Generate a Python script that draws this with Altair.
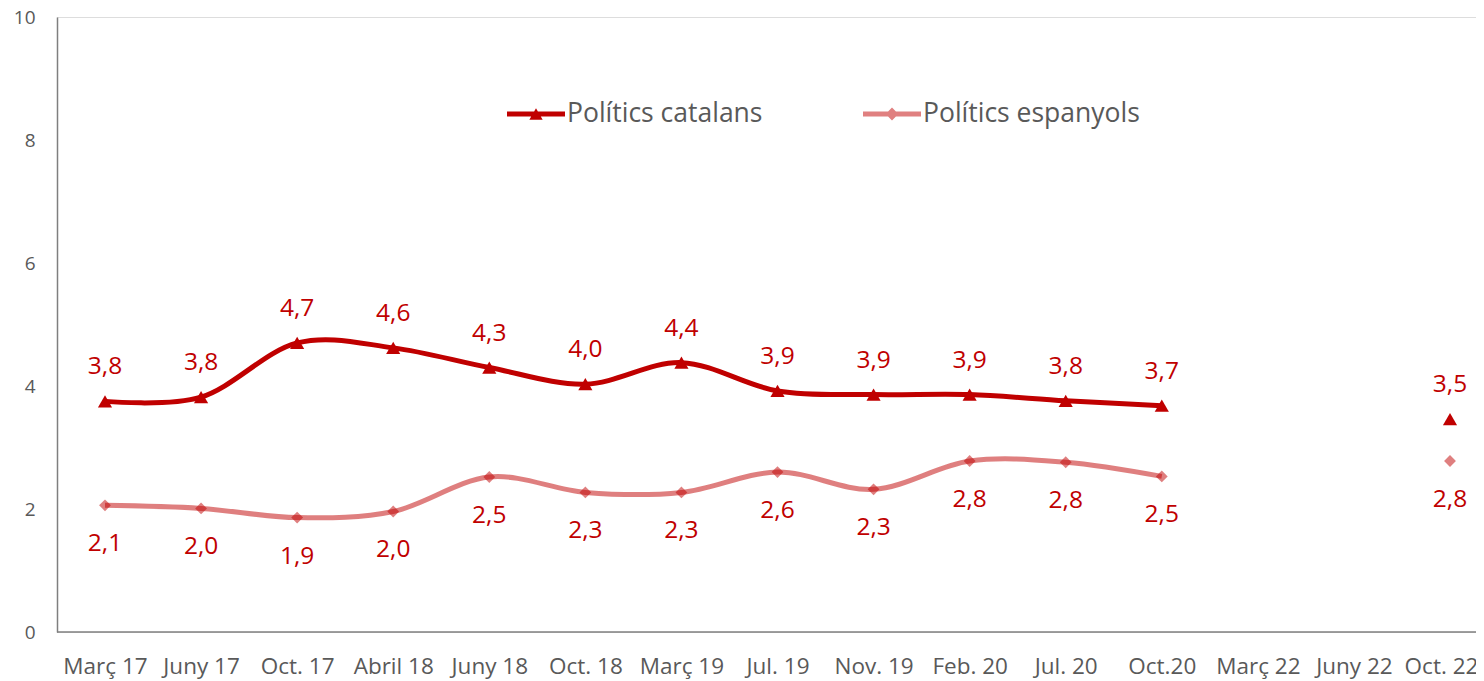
import altair as alt
import pandas as pd

categories = ["Març 17", "Juny 17", "Oct. 17", "Abril 18", "Juny 18", "Oct. 18",
              "Març 19", "Jul. 19", "Nov. 19", "Feb. 20", "Jul. 20", "Oct.20",
              "Març 22", "Juny 22", "Oct. 22"]
catalans = [3.75, 3.82, 4.70, 4.62, 4.30, 4.03, 4.38, 3.92, 3.86, 3.86, 3.76, 3.68, None, None, 3.46]
espanyols = [2.06, 2.01, 1.86, 1.96, 2.52, 2.27, 2.27, 2.60, 2.32, 2.78, 2.76, 2.53, None, None, 2.78]
series_names = ["Polítics catalans", "Polítics espanyols"]
segment = [0] * 12 + [1] * 3

rows = []
for name, vals in zip(series_names, [catalans, espanyols]):
    for c, v, s in zip(categories, vals, segment):
        rows.append({"cat": c, "series": name, "v": v, "seg": s})
df = pd.DataFrame(rows)

RED = "#C00000"
LIGHT = "rgba(192,0,0,0.5)"
FONT = "Open Sans"
PLOT_W = 1419
PLOT_H = 615

x = alt.X("cat:N", sort=categories, title=None,
          scale=alt.Scale(type="point", domain=categories, range=[48, 1393], padding=0),
          axis=alt.Axis(labelAngle=0, labelFontSize=22.5, labelColor="#595959",
                        labelFont=FONT, ticks=False, domain=False,
                        labelBaseline="alphabetic", labelPadding=41,
                        labelOffset={"condition": {"test": "datum.label == 'Oct. 22'", "value": -9},
                                     "value": 0},
                        labelOverlap=False, labelBound=False))
y = alt.Y("v:Q", title=None,
          scale=alt.Scale(domain=[0, 10], nice=False),
          axis=alt.Axis(values=[0, 2, 4, 6, 8, 10], format="d", grid=False, ticks=False,
                        labelFontSize=19, labelColor="#595959", labelFont=FONT,
                        domainColor="#7F7F7F", domainWidth=1.5, labelPadding=22))

base = alt.Chart(df)

baseline = alt.Chart(pd.DataFrame({"v": [0]})).mark_rule(color="#7F7F7F", strokeWidth=1.5).encode(
    y=y, x=alt.value(0), x2=alt.value(PLOT_W)
)

lines = base.mark_line(interpolate="cardinal", strokeWidth=5).encode(
    x=x, y=y,
    stroke=alt.Stroke("series:N", scale=alt.Scale(domain=series_names, range=[RED, LIGHT]), legend=None),
    detail="seg:N",
).transform_filter("isValid(datum.v)")

pts_cat = base.mark_point(filled=True, opacity=1, shape="triangle-up", size=200, color=RED).encode(
    x=x, y=y
).transform_filter("isValid(datum.v) && datum.series == 'Polítics catalans'")

pts_esp = base.mark_point(filled=True, opacity=1, shape="diamond", size=140, color=LIGHT).encode(
    x=x, y=y
).transform_filter("isValid(datum.v) && datum.series == 'Polítics espanyols'")

tri_path = "M-1,-0.09H1V0.09H-1Z M-0.23,0.2L0,-0.2L0.23,0.2Z"
dia_path = "M-1,-0.09H1V0.09H-1Z M-0.22,0L0,-0.22L0.22,0L0,0.22Z"


def legend_for(name, path, fill_color, lx):
    leg = alt.Legend(title=None, orient="none", legendX=lx, legendY=68,
                     direction="horizontal", symbolSize=3364,
                     symbolStrokeWidth=0, symbolFillColor=fill_color,
                     labelFontSize=26.5, labelFont=FONT,
                     labelColor="#595959", labelOffset=2,
                     padding=0, labelLimit=400)
    return base.mark_point(filled=True, color=fill_color, opacity=1).encode(
        x=x, y=y,
        shape=alt.Shape("series:N", scale=alt.Scale(domain=[name], range=[path]), legend=leg),
    ).transform_filter("false")


leg_cat = legend_for(series_names[0], tri_path, RED, 450)
leg_esp = legend_for(series_names[1], dia_path, "#E08080", 806)

label_expr = "replace(format(datum.v, '.1f'), '.', ',')"

text_cat = base.mark_text(dy=-34, fontSize=24.5, font=FONT, color=RED).encode(
    x=x, y=y, text="lbl:N"
).transform_filter(
    "isValid(datum.v) && datum.series == 'Polítics catalans'"
).transform_calculate(lbl=label_expr)

text_esp = base.mark_text(dy=39, fontSize=24.5, font=FONT, color=RED).encode(
    x=x, y=y, text="lbl:N"
).transform_filter(
    "isValid(datum.v) && datum.series == 'Polítics espanyols'"
).transform_calculate(lbl=label_expr)

chart = alt.layer(baseline, lines, pts_cat, pts_esp, leg_cat, leg_esp, text_cat, text_esp).resolve_scale(
    shape="independent"
).resolve_legend(shape="independent").properties(
    width=PLOT_W, height=PLOT_H,
    autosize=alt.AutoSizeParams(type="none"),
    padding={"left": 49, "top": 9, "right": 0, "bottom": 52},
).configure_view(strokeWidth=0).configure(background="white")

chart.save("out.html", embed_options={"renderer": "svg", "actions": False})
